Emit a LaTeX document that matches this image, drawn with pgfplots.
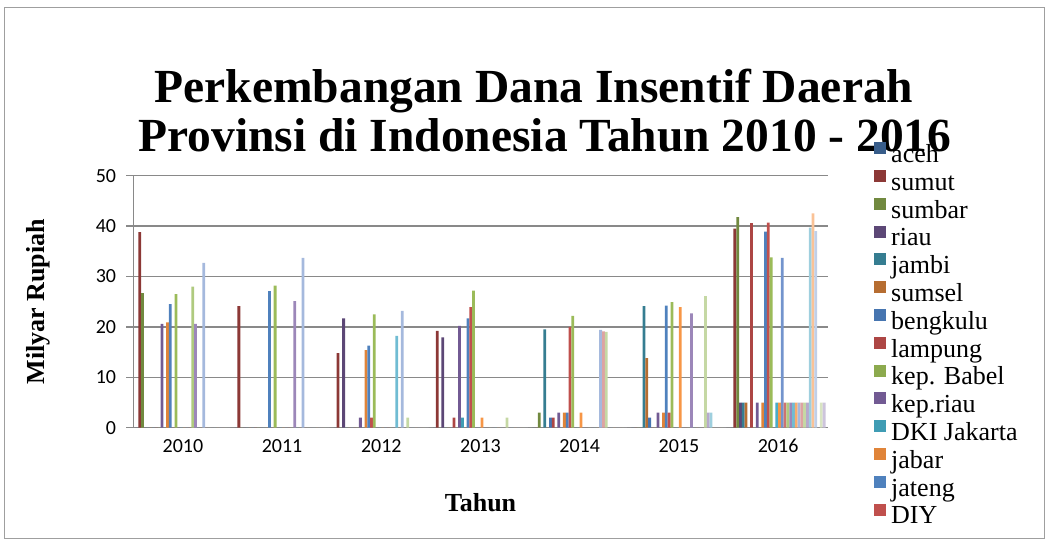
\documentclass[border=0pt]{standalone}
\usepackage{fontspec}
\setmainfont{Liberation Serif}
\newfontfamily\carlito{Carlito}
\usepackage{pgfplots}
\usepackage{pgfplotstable}
\pgfplotsset{compat=1.18}

\definecolor{gridgray}{HTML}{898989}
\definecolor{c1}{HTML}{385D8A}
\definecolor{c2}{HTML}{8C3836}
\definecolor{c3}{HTML}{71893F}
\definecolor{c4}{HTML}{5C4776}
\definecolor{c5}{HTML}{357D91}
\definecolor{c6}{HTML}{B66D31}
\definecolor{c7}{HTML}{4675B0}
\definecolor{c8}{HTML}{AD4644}
\definecolor{c9}{HTML}{8CAA4E}
\definecolor{c10}{HTML}{725A93}
\definecolor{c11}{HTML}{3F9CB4}
\definecolor{c12}{HTML}{E08439}
\definecolor{c13}{HTML}{4F81BD}
\definecolor{c14}{HTML}{C0504D}
\definecolor{c15}{HTML}{9BBB59}
\definecolor{c16}{HTML}{8064A2}
\definecolor{c17}{HTML}{4BACC6}
\definecolor{c18}{HTML}{F79646}
\definecolor{c19}{HTML}{7394CD}
\definecolor{c20}{HTML}{CD7371}
\definecolor{c21}{HTML}{AFCA7F}
\definecolor{c22}{HTML}{9C87B9}
\definecolor{c23}{HTML}{70BCD3}
\definecolor{c24}{HTML}{F9AC6C}
\definecolor{c25}{HTML}{A5B9DD}
\definecolor{c26}{HTML}{DDA3A2}
\definecolor{c27}{HTML}{C5D8A4}
\definecolor{c28}{HTML}{B7A9CC}
\definecolor{c29}{HTML}{9ECFDE}
\definecolor{c30}{HTML}{FAC296}
\definecolor{c31}{HTML}{C0CFE8}
\definecolor{c32}{HTML}{E8C2C1}
\definecolor{c33}{HTML}{D8E4C2}
\definecolor{c34}{HTML}{CDC4DC}

\pgfplotstableread{
x s1 s2 s3 s4 s5 s6 s7 s8 s9 s10 s11 s12 s13 s14 s15 s16 s17 s18 s19 s20 s21 s22 s23 s24 s25 s26 s27 s28 s29 s30 s31 s32 s33 s34
0 0 38.8 26.7 0 0 0 0 0 0 20.6 0 20.9 24.5 0 26.5 0 0 0 0 0 28.0 20.6 0 0 32.7 0 0 0 0 0 0 0 0 0
1 0 24.1 0 0 0 0 0 0 0 0 0 0 27.1 0 28.2 0 0 0 0 0 0 25.1 0 0 33.7 0 0 0 0 0 0 0 0 0
2 0 14.8 0 21.7 0 0 0 0 0 2 0 15.4 16.3 2 22.5 0 0 0 0 0 0 0 18.2 0 23.2 0 2 0 0 0 0 0 0 0
3 0 19.2 0 17.9 0 0 0 2 0 20.2 2 0 21.7 23.9 27.2 0 0 2 0 0 0 0 0 0 0 0 2 0 0 0 0 0 0 0
4 0 0 3 0 19.5 0 2 2 0 3 0 3 3 20.0 22.2 0 0 3 0 0 0 0 0 0 19.4 19.1 19.0 0 0 0 0 0 0 0
5 0 0 0 0 24.1 13.8 2 0 0 3 0 3 24.2 3 24.9 0 0 23.9 0 0 0 22.7 0 0 0 0 26.1 3 3 0 0 0 0 0
6 0 39.5 41.8 5 5 5 0 40.6 0 5 0 5 38.9 40.7 33.8 0 5 5 33.7 5 5 5 5 5 5 5 5 5 39.7 42.5 39.0 0 5 5
}\data

\pgfplotsset{
  mybar/.style={ybar, bar width=0.028125, draw=none, fill=#1,
    legend image code/.code={\fill[#1] (0pt,2.4pt) rectangle (12pt,14.4pt);}},
}

\begin{document}
\begin{tikzpicture}
\path[use as bounding box] (0pt,0pt) rectangle (1048pt,543pt);
\draw[color=gray!75, line width=1pt] (4pt,5pt) rectangle (1044pt,535pt);
\node[anchor=base, font=\bfseries\fontsize{47.5}{50}\selectfont, inner sep=0pt] at (534pt,440pt) {Perkembangan Dana Insentif Daerah};
\node[anchor=base, font=\bfseries\fontsize{47.5}{50}\selectfont, inner sep=0pt] at (545pt,391pt) {Provinsi di Indonesia Tahun 2010 - 2016};
\begin{axis}[
  at={(133.3pt,115.3pt)}, anchor=south west,
  scale only axis, width=694.4pt, height=252pt,
  xmin=-0.5, xmax=6.5, ymin=0, ymax=50,
  xtick={0,1,2,3,4,5,6},
  xticklabels={2010,2011,2012,2013,2014,2015,2016},
  ytick={0,10,20,30,40,50},
  /pgf/number format/assume math mode=true,
  axis lines*=left,
  axis line style={-, line width=1.3pt, color=gridgray},
  ymajorgrids,
  major grid style={line width=1.3pt, color=gridgray},
  tick align=outside,
  ytick pos=left,
  xtick style={draw=none},
  ytick style={line width=1.3pt, color=gridgray},
  major tick length=7pt,
  ticklabel style={font=\carlito\fontsize{20}{21}\selectfont, inner sep=0pt},
  yticklabel style={anchor=east, xshift=-10pt},
  xticklabel style={anchor=north, yshift=-4.5pt},
  xlabel={Tahun},
  ylabel={Milyar Rupiah},
  xlabel style={font=\bfseries\fontsize{26}{30}\selectfont, at={(axis description cs:0.5,-0.334)}, anchor=base, inner sep=0pt},
  ylabel style={font=\bfseries\fontsize{26}{30}\selectfont, at={(axis description cs:-0.137,0.5)}, anchor=center, inner sep=0pt},
  legend style={at={(axis description cs:1.0667,1.134)}, anchor=north west, draw=none, fill=none,
    font=\fontsize{26}{27}\selectfont, inner sep=0pt, row sep=1.4pt, column sep=5pt,
    nodes={inner sep=0pt, text height=18pt, text depth=6pt}},
  legend cell align=left,
]
\addplot[mybar=c1, bar shift=-0.46406] table[x=x,y=s1]{\data}; \addlegendentry{aceh}
\addplot[mybar=c2, bar shift=-0.43594] table[x=x,y=s2]{\data}; \addlegendentry{sumut}
\addplot[mybar=c3, bar shift=-0.40781] table[x=x,y=s3]{\data}; \addlegendentry{sumbar}
\addplot[mybar=c4, bar shift=-0.37969] table[x=x,y=s4]{\data}; \addlegendentry{riau}
\addplot[mybar=c5, bar shift=-0.35156] table[x=x,y=s5]{\data}; \addlegendentry{jambi}
\addplot[mybar=c6, bar shift=-0.32344] table[x=x,y=s6]{\data}; \addlegendentry{sumsel}
\addplot[mybar=c7, bar shift=-0.29531] table[x=x,y=s7]{\data}; \addlegendentry{bengkulu}
\addplot[mybar=c8, bar shift=-0.26719] table[x=x,y=s8]{\data}; \addlegendentry{lampung}
\addplot[mybar=c9, bar shift=-0.23906] table[x=x,y=s9]{\data}; \addlegendentry{kep. Babel}
\addplot[mybar=c10, bar shift=-0.21094] table[x=x,y=s10]{\data}; \addlegendentry{kep.riau}
\addplot[mybar=c11, bar shift=-0.18281] table[x=x,y=s11]{\data}; \addlegendentry{DKI Jakarta}
\addplot[mybar=c12, bar shift=-0.15469] table[x=x,y=s12]{\data}; \addlegendentry{jabar}
\addplot[mybar=c13, bar shift=-0.12656] table[x=x,y=s13]{\data}; \addlegendentry{jateng}
\addplot[mybar=c14, bar shift=-0.09844] table[x=x,y=s14]{\data}; \addlegendentry{DIY}
\addplot[mybar=c15, bar shift=-0.07031, forget plot] table[x=x,y=s15]{\data};
\addplot[mybar=c16, bar shift=-0.04219, forget plot] table[x=x,y=s16]{\data};
\addplot[mybar=c17, bar shift=-0.01406, forget plot] table[x=x,y=s17]{\data};
\addplot[mybar=c18, bar shift=0.01406, forget plot] table[x=x,y=s18]{\data};
\addplot[mybar=c19, bar shift=0.04219, forget plot] table[x=x,y=s19]{\data};
\addplot[mybar=c20, bar shift=0.07031, forget plot] table[x=x,y=s20]{\data};
\addplot[mybar=c21, bar shift=0.09844, forget plot] table[x=x,y=s21]{\data};
\addplot[mybar=c22, bar shift=0.12656, forget plot] table[x=x,y=s22]{\data};
\addplot[mybar=c23, bar shift=0.15469, forget plot] table[x=x,y=s23]{\data};
\addplot[mybar=c24, bar shift=0.18281, forget plot] table[x=x,y=s24]{\data};
\addplot[mybar=c25, bar shift=0.21094, forget plot] table[x=x,y=s25]{\data};
\addplot[mybar=c26, bar shift=0.23906, forget plot] table[x=x,y=s26]{\data};
\addplot[mybar=c27, bar shift=0.26719, forget plot] table[x=x,y=s27]{\data};
\addplot[mybar=c28, bar shift=0.29531, forget plot] table[x=x,y=s28]{\data};
\addplot[mybar=c29, bar shift=0.32344, forget plot] table[x=x,y=s29]{\data};
\addplot[mybar=c30, bar shift=0.35156, forget plot] table[x=x,y=s30]{\data};
\addplot[mybar=c31, bar shift=0.37969, forget plot] table[x=x,y=s31]{\data};
\addplot[mybar=c32, bar shift=0.40781, forget plot] table[x=x,y=s32]{\data};
\addplot[mybar=c33, bar shift=0.43594, forget plot] table[x=x,y=s33]{\data};
\addplot[mybar=c34, bar shift=0.46406, forget plot] table[x=x,y=s34]{\data};
\end{axis}
\end{tikzpicture}
\end{document}
